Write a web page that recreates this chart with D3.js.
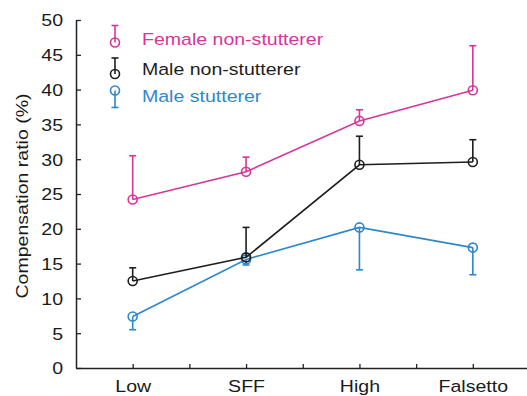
<!DOCTYPE html>
<html>
<head>
<meta charset="utf-8">
<script src="https://cdn.jsdelivr.net/npm/d3@7"></script>
<style>
  html, body { margin: 0; padding: 0; background: #fff; }
  svg { display: block; font-family: "Liberation Sans", Arial, Helvetica, sans-serif; }
</style>
</head>
<body>
<svg id="chart" width="527" height="396"></svg>
<script>
// Condition categories along the x axis
const categories = ["Low", "SFF", "High", "Falsetto"];

// Group means (%) and one-sided error bar lengths
const femaleMeans = [24.2, 28.2, 35.5, 39.9];
const femaleErr   = [6.3, 2.1, 1.6, 6.4];
const maleMeans   = [12.5, 15.9, 29.2, 29.6];
const maleErr     = [1.9, 4.3, 4.1, 3.2];
const stutMeans   = [7.4, 15.6, 20.2, 17.3];
const stutErr     = [1.9, 0.8, 6.1, 3.9];

const seriesNames = ["Female non-stutterer", "Male non-stutterer", "Male stutterer"];
const yTicks = [0, 5, 10, 15, 20, 25, 30, 35, 40, 45, 50];

const series = [
  { name: seriesNames[2], means: stutMeans,   err: stutErr,   dir: -1, color: "#2f87c9" },
  { name: seriesNames[1], means: maleMeans,   err: maleErr,   dir:  1, color: "#1e1e1e" },
  { name: seriesNames[0], means: femaleMeans, err: femaleErr, dir:  1, color: "#d6359b" }
];

const svg = d3.select("#chart");
const SX = 1.15;      // horizontal glyph widening
const FS = 17;

const x = d3.scaleLinear().domain([0.5, 4.5]).range([76, 529.5]);
const y = d3.scaleLinear().domain([0, 50]).range([368, 20]);

// Axes with inward ticks
const xAxis = d3.axisBottom(x)
  .tickValues([1, 1.5, 2, 2.5, 3, 3.5, 4])
  .tickFormat(d => Number.isInteger(d) ? categories[d - 1] : "")
  .tickSizeInner(-4).tickSizeOuter(0).tickPadding(14);

const yAxis = d3.axisLeft(y)
  .tickValues(yTicks)
  .tickSizeInner(-5).tickSizeOuter(0).tickPadding(13);

const gx = svg.append("g").attr("transform", `translate(0,${y(0)})`).call(xAxis);
const gy = svg.append("g").attr("transform", `translate(${x(0.5)},0)`).call(yAxis);

[gx, gy].forEach(g => {
  g.select(".domain").attr("stroke", "#222").attr("stroke-width", 1.5);
  g.selectAll(".tick line").attr("stroke", "#222").attr("stroke-width", 1.3);
  g.selectAll(".tick text")
    .attr("fill", "#1a1a1a")
    .style("font-size", FS + "px")
    .style("font-family", "'Liberation Sans', Arial, sans-serif");
});

gx.selectAll(".tick text")
  .attr("dy", null).attr("y", 0)
  .attr("transform", `translate(0,${391.5 - y(0)}) scale(${SX},1)`);

gy.selectAll(".tick text")
  .attr("x", 0).attr("dy", "0.35em")
  .attr("transform", `translate(-13,0) scale(${SX},1)`);

// Axis title
svg.append("text")
  .attr("transform", `translate(28,196) rotate(-90) scale(${SX},1)`)
  .attr("text-anchor", "middle")
  .attr("fill", "#1a1a1a")
  .style("font-size", FS + "px")
  .text("Compensation ratio (%)");

const R = 4.5, CAP = 3.5;
const line = d3.line().x((d, i) => x(i + 1)).y(d => y(d));

series.forEach(s => {
  const g = svg.append("g");
  g.append("path")
    .attr("d", line(s.means))
    .attr("fill", "none")
    .attr("stroke", s.color)
    .attr("stroke-width", 1.6);

  s.means.forEach((m, i) => {
    const cx = x(i + 1);
    const yEnd = y(m + s.dir * s.err[i]);
    g.append("line")
      .attr("x1", cx).attr("x2", cx)
      .attr("y1", y(m)).attr("y2", yEnd)
      .attr("stroke", s.color).attr("stroke-width", 1.6);
    g.append("line")
      .attr("x1", cx - CAP).attr("x2", cx + CAP)
      .attr("y1", yEnd).attr("y2", yEnd)
      .attr("stroke", s.color).attr("stroke-width", 1.6);
    g.append("circle")
      .attr("cx", cx).attr("cy", y(m)).attr("r", R)
      .attr("fill", "none")
      .attr("stroke", s.color).attr("stroke-width", 1.6);
  });
});

// Legend
const legendItems = [
  { s: series[2], cy: 42.5, stem: -17, base: 45 },
  { s: series[1], cy: 74,   stem: -16, base: 75 },
  { s: series[0], cy: 90.5, stem: 17,  base: 102 }
];
const lx = 115;
legendItems.forEach(it => {
  const g = svg.append("g");
  const yEnd = it.cy + it.stem;
  g.append("line").attr("x1", lx).attr("x2", lx).attr("y1", it.cy).attr("y2", yEnd)
    .attr("stroke", it.s.color).attr("stroke-width", 1.6);
  g.append("line").attr("x1", lx - CAP).attr("x2", lx + CAP).attr("y1", yEnd).attr("y2", yEnd)
    .attr("stroke", it.s.color).attr("stroke-width", 1.6);
  g.append("circle").attr("cx", lx).attr("cy", it.cy).attr("r", R)
    .attr("fill", "none").attr("stroke", it.s.color).attr("stroke-width", 1.6);
  g.append("text")
    .attr("transform", `translate(142,${it.base}) scale(${SX},1)`)
    .attr("fill", it.s.color)
    .style("font-size", FS + "px")
    .text(it.s.name);
});
</script>
</body>
</html>
